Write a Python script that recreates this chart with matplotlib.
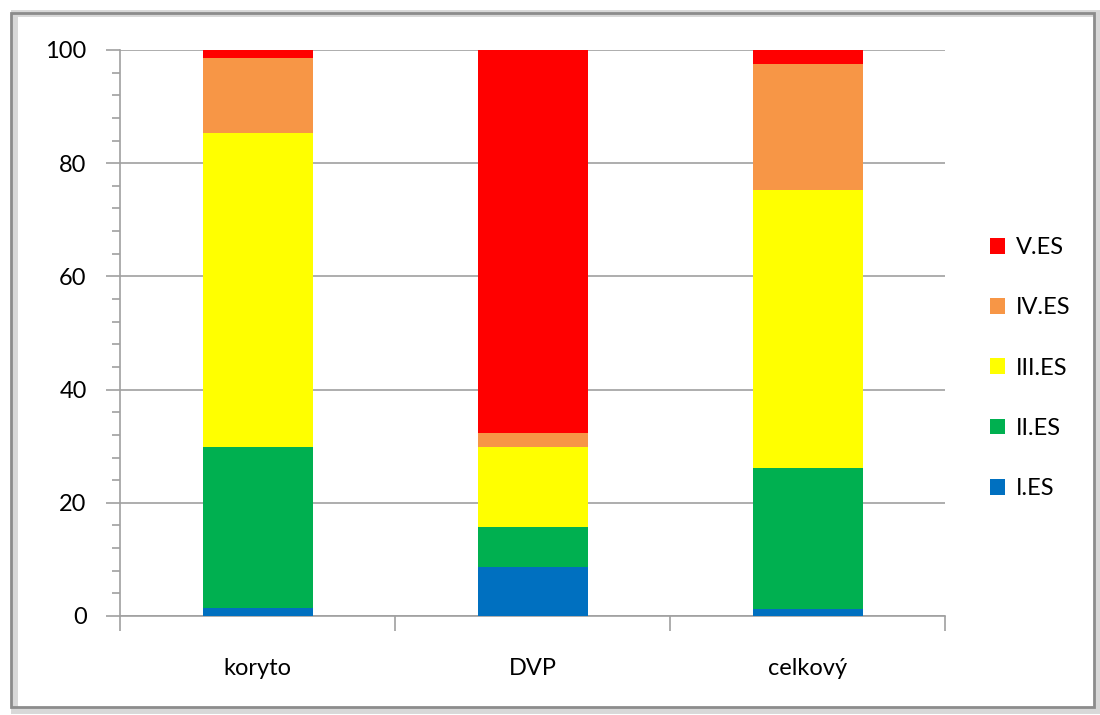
import numpy as np
import matplotlib.pyplot as plt
from matplotlib.patches import Rectangle

plt.rcParams['font.family'] = ['Lato', 'DejaVu Sans']

categories = ['koryto', 'DVP', 'celkový']
series_names = ['I.ES', 'II.ES', 'III.ES', 'IV.ES', 'V.ES']
es1 = [1.5, 8.7, 1.2]
es2 = [28.3, 7.0, 25.0]
es3 = [55.5, 14.2, 49.1]
es4 = [13.3, 2.5, 22.2]
es5 = [1.4, 67.6, 2.5]
colors = ['#0070C0', '#00B050', '#FFFF00', '#F79646', '#FF0000']

fig = plt.figure(figsize=(11, 7.15), dpi=100)
ax = fig.add_axes([120/1100, 1 - 616/715, 825/1100, 566/715])

x = np.arange(len(categories))
bottom = np.zeros(len(categories))
handles = []
for vals, name, c in zip([es1, es2, es3, es4, es5], series_names, colors):
    b = ax.bar(x, vals, width=0.4, bottom=bottom, color=c, label=name, zorder=3)
    handles.append(b)
    bottom += np.array(vals)

ax.set_xlim(-0.5, 2.5)
ax.set_ylim(0, 100)
ax.set_yticks(np.arange(0, 101, 20))
ax.set_yticks(np.arange(0, 101, 4), minor=True)
ax.set_xticks(x)
ax.set_xticklabels(categories)
ax.set_xticks([-0.5, 0.5, 1.5, 2.5], minor=True)
ax.grid(axis='y', which='major', color='#A0A0A0', linewidth=1.2, zorder=0)
for s in ['top', 'right']:
    ax.spines[s].set_visible(False)
for s in ['left', 'bottom']:
    ax.spines[s].set_color('#A0A0A0')
    ax.spines[s].set_linewidth(1.2)
ax.tick_params(axis='y', which='major', length=10, color='#A0A0A0', width=1.2, labelsize=17, pad=14)
ax.tick_params(axis='y', which='minor', length=6, color='#A0A0A0', width=1.2)
ax.tick_params(axis='x', which='major', length=0, labelsize=17, pad=30)
ax.tick_params(axis='x', which='minor', length=11, color='#A0A0A0', width=1.2)

ax.legend(handles[::-1], series_names[::-1], loc='center left', bbox_to_anchor=(1.043, 0.438),
          borderaxespad=0, frameon=False, fontsize=17, handlelength=0.65, handleheight=0.65,
          labelspacing=1.66, handletextpad=0.45)

# chart border with shadow
fig.patches.append(Rectangle((14/1100, 1 - 710/715), 1083/1100, 697/715,
                             transform=fig.transFigure, fill=False,
                             edgecolor='#D8D8D8', linewidth=5, zorder=-1))
fig.patches.append(Rectangle((11/1100, 1 - 707/715), 1083/1100, 694/715,
                             transform=fig.transFigure, fill=False,
                             edgecolor='#8C8C8C', linewidth=2, zorder=0))

fig.savefig('out.png', dpi=100)
